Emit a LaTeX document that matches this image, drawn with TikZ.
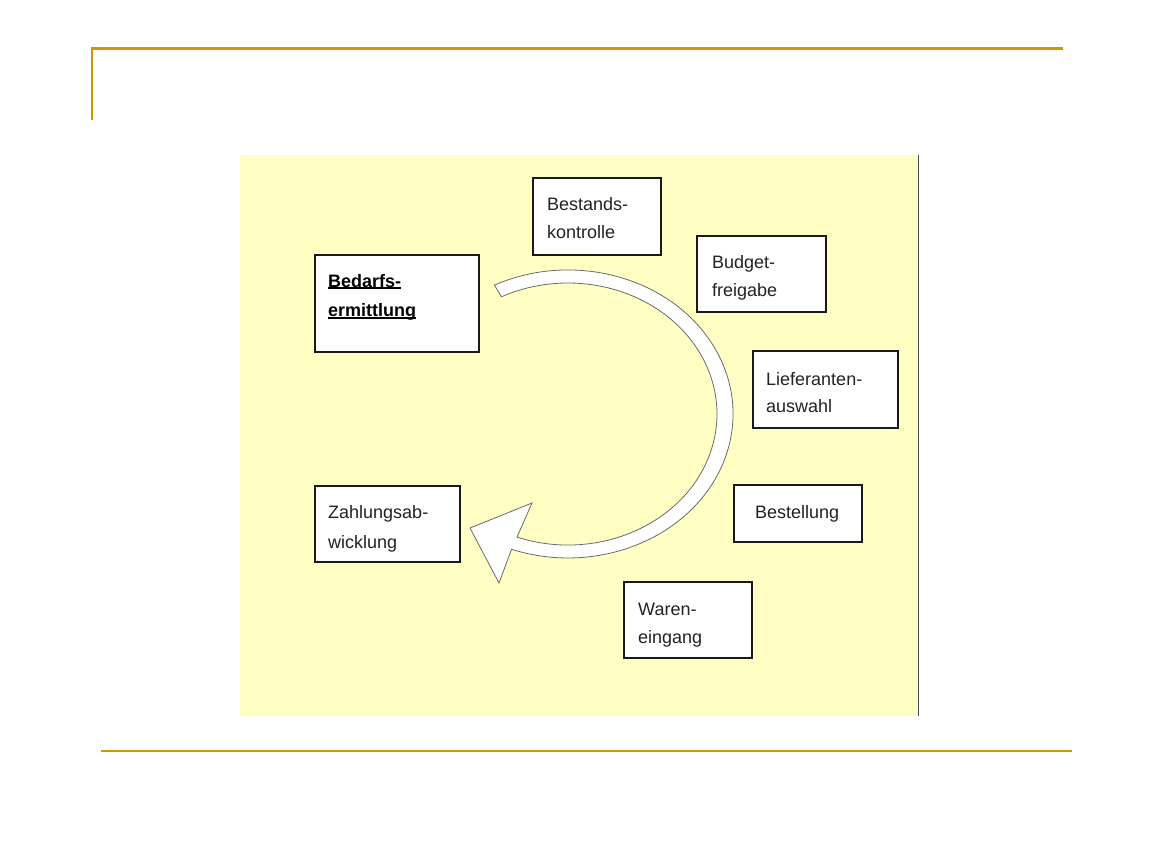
\documentclass[tikz,border=0pt]{standalone}
\usepackage{fontspec}
\setmainfont{Liberation Sans}
\usetikzlibrary{calc}
\definecolor{gold}{HTML}{CC9900}
\definecolor{panel}{HTML}{FFFFC4}
\definecolor{arrowline}{HTML}{6A6A6A}
\definecolor{ink}{HTML}{222222}
\newcommand\bul[1]{\setbox0\hbox{#1}\rlap{\rule[-2.2pt]{\wd0}{1.9pt}}\box0}
\begin{document}
\begin{tikzpicture}[x=1pt,y=1pt,
  box/.style={draw=black!90, line width=1.6pt, fill=white, anchor=north west, inner sep=0pt},
  txt/.style={anchor=base west, inner sep=0pt, font=\fontsize{18}{22}\selectfont, text=ink}]
\useasboundingbox (0,0) rectangle (1173,-855);
\fill[white] (0,0) rectangle (1173,-855);
% frame lines
\draw[gold, line width=2.2pt] (92,-120) -- (92,-48.5) -- (1063,-48.5);
\draw[gold, line width=2pt] (101,-750.5) -- (1072,-750.5);
% panel
\node[fill=panel, minimum width=678, minimum height=561, anchor=north west, inner sep=0pt] (panel) at (240,-155) {};
\draw[gray!60!black, line width=1.3pt] (panel.north east) -- (panel.south east);
% cycle arrow
\draw[fill=white, draw=arrowline, line width=0.8pt, line join=miter]
  (494.4,-285.1) arc[start angle=116.5, end angle=-110, x radius=165, y radius=144]
  -- (499,-583) -- (470,-528) -- (532,-503) -- (517,-537.1)
  arc[start angle=-110, end angle=116.5, x radius=149, y radius=131] -- cycle;
% boxes
\node[box, minimum width=128, minimum height=77] (bk) at (532,-177) {};
\node[txt] (bk1) at (547,-210) {Bestands-};
\node[txt] (bk2) at (547,-238.5) {kontrolle};

\node[box, minimum width=129, minimum height=76] (bf) at (696,-235) {};
\node[txt] (bf1) at (712,-268) {Budget-};
\node[txt] (bf2) at (712,-296) {freigabe};

\node[box, minimum width=164, minimum height=97] (be) at (314,-254) {};
\node[txt, font=\fontsize{18}{22}\selectfont\bfseries, text=black] (be1) at (328,-287) {\bul{Bedarfs-}};
\node[txt, font=\fontsize{18}{22}\selectfont\bfseries, text=black] (be2) at (328,-316.5) {\bul{ermittlung}};

\node[box, minimum width=145, minimum height=77] (la) at (752,-350) {};
\node[txt] (la1) at (766,-385) {Lieferanten-};
\node[txt] (la2) at (766,-412.5) {auswahl};

\node[box, minimum width=128, minimum height=57] (bs) at (733,-484) {};
\node[txt] (bs1) at (755,-518) {Bestellung};

\node[box, minimum width=145, minimum height=76] (za) at (314,-485) {};
\node[txt] (za1) at (328,-518) {Zahlungsab-};
\node[txt] (za2) at (328,-548) {wicklung};

\node[box, minimum width=128, minimum height=76] (we) at (623,-581) {};
\node[txt] (we1) at (638,-615) {Waren-};
\node[txt] (we2) at (638,-643) {eingang};
\end{tikzpicture}
\end{document}
